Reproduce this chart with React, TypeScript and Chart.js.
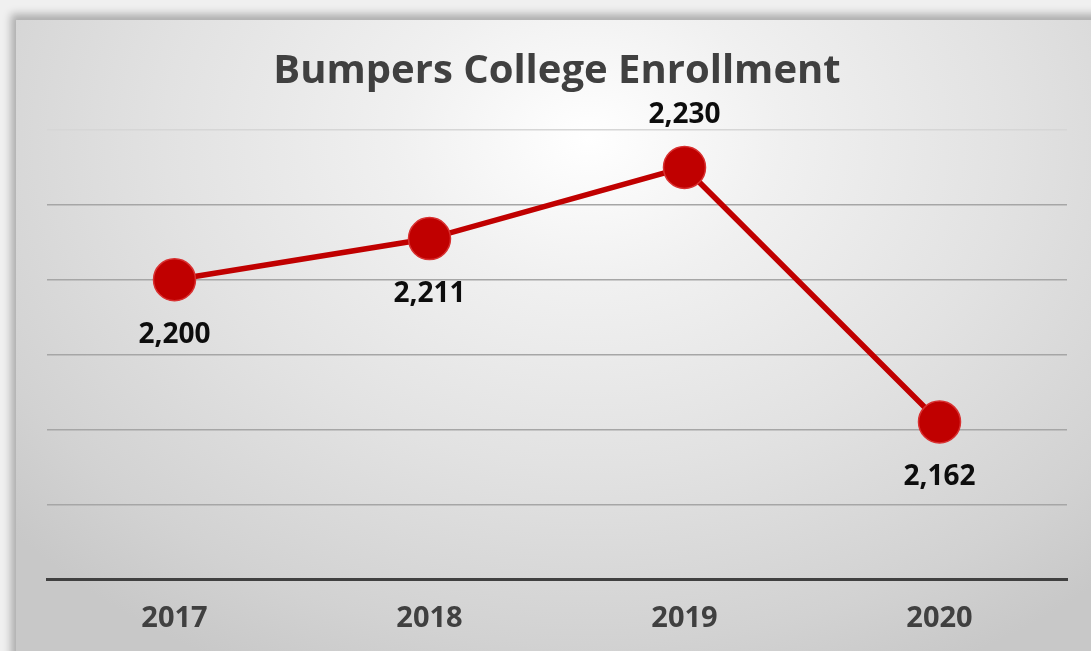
import React, { useEffect, useRef } from "react";
import { Chart, registerables } from "chart.js";

Chart.register(...registerables);

// ---- data ----
const years: string[] = ["2017", "2018", "2019", "2020"];
const enrollment: number[] = [2200, 2211, 2230, 2162];
const labelSides: string[] = ["below", "below", "above", "below"];
const yMin = 2120;
const yMax = 2240;
const yStep = 20;
const chartTitle = "Bumpers College Enrollment";

const FONT = "'Open Sans', 'DejaVu Sans', sans-serif";
const RED = "#c00000";

const fmt = (v: number) => v.toLocaleString("en-US");

const valueLabels = {
  id: "valueLabels",
  afterDatasetsDraw(chart: any) {
    const ctx = chart.ctx as CanvasRenderingContext2D;
    const meta = chart.getDatasetMeta(0);
    ctx.save();
    ctx.font = `bold 28px ${FONT}`;
    ctx.fillStyle = "#0d0d0d";
    ctx.textAlign = "center";
    ctx.textBaseline = "middle";
    meta.data.forEach((pt: any, i: number) => {
      const dy = labelSides[i] === "above" ? -52 : 55;
      ctx.fillText(fmt(enrollment[i]), pt.x, pt.y + dy);
    });
    ctx.restore();
  },
};

export default function App() {
  const ref = useRef<HTMLCanvasElement | null>(null);

  useEffect(() => {
    if (!ref.current) return;
    const chart = new Chart(ref.current, {
      type: "line",
      data: {
        labels: years,
        datasets: [
          {
            data: enrollment,
            borderColor: RED,
            borderWidth: 5.5,
            backgroundColor: RED,
            pointRadius: 21,
            pointHoverRadius: 21,
            pointBackgroundColor: RED,
            pointBorderColor: "#d83030",
            pointBorderWidth: 1.5,
            tension: 0,
            clip: false as any,
          },
        ],
      },
      options: {
        animation: false,
        responsive: false,
        layout: { padding: { left: 47, right: 24, top: 20, bottom: 2 } },
        plugins: {
          legend: { display: false },
          tooltip: { enabled: false },
          title: {
            display: true,
            text: chartTitle,
            color: "#404040",
            font: { family: FONT, size: 40, weight: "bold" },
            padding: { top: 28, bottom: 34 },
          },
        },
        scales: {
          x: {
            offset: true,
            grid: { display: false, drawTicks: false },
            border: { display: true, color: "#404040", width: 3 },
            ticks: {
              color: "#404040",
              font: { family: FONT, size: 29, weight: "bold" },
              padding: 22,
            },
          },
          y: {
            min: yMin,
            max: yMax,
            ticks: { display: false, stepSize: yStep },
            grid: {
              drawTicks: false,
              color: (c: any) => (c.tick && c.tick.value === yMax ? "#d6d6d6" : "#a6a6a6"),
              lineWidth: 1.5,
            },
            border: { display: false },
          },
        },
      },
      plugins: [valueLabels],
    });
    return () => chart.destroy();
  }, []);

  return (
    <div
      style={{
        position: "fixed",
        left: 0,
        top: 0,
        width: 1091,
        height: 651,
        overflow: "hidden",
        background: "#f0f0f0",
      }}
    >
      <div
        style={{
          position: "absolute",
          left: 16,
          top: 20,
          width: 1100,
          height: 660,
          background:
            "radial-gradient(ellipse 70% 90% at 52% 18%, #ffffff 0%, #f0f0f0 25%, #e2e2e2 55%, #d2d2d2 85%, #c8c8c8 100%)",
          boxShadow: "-5px -6px 8px rgba(0,0,0,0.28)",
        }}
      />
      <canvas
        ref={ref}
        width={1091}
        height={660}
        style={{ position: "absolute", left: 0, top: 0, width: 1091, height: 660 }}
      />
    </div>
  );
}
